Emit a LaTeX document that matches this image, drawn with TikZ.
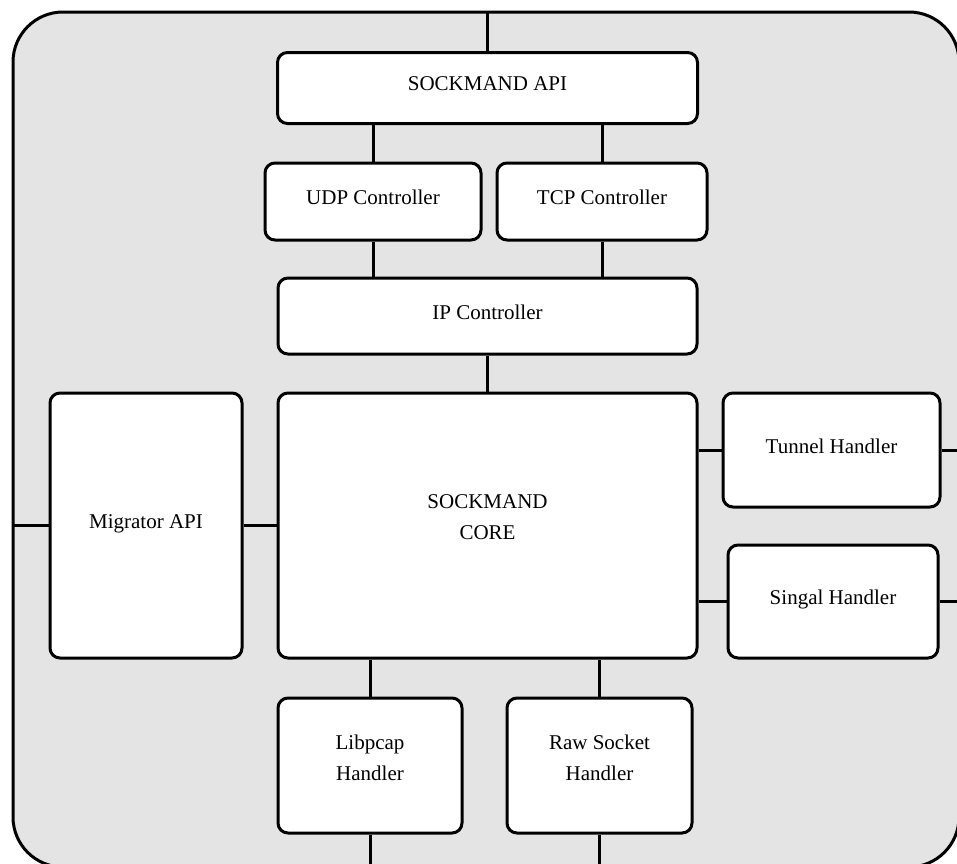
\documentclass[tikz,border=0pt]{standalone}
\usepackage{fontspec}
\setmainfont{Liberation Serif}
\definecolor{framegray}{RGB}{228,228,228}
\begin{document}
\begin{tikzpicture}[x=1pt,y=-1pt,
  wire/.style={line width=3pt},
  block/.style={draw, line width=3pt, fill=white, rounded corners=10pt,
    inner sep=0pt, align=center, text depth=8pt,
    font=\fontsize{21}{31}\selectfont},
  shell/.style={draw, line width=3pt, fill=framegray, rounded corners=50pt,
    inner sep=0pt}]
\useasboundingbox (0,0) rectangle (957,863);

% enclosing module
\node[shell, minimum width=946pt, minimum height=855pt] (frame) at (486,439.5) {};

% controller stack
\node[block, minimum width=420pt, minimum height=71pt]  (api)  at (487.5,88)   {SOCKMAND API};
\node[block, minimum width=216pt, minimum height=77pt]  (udp)  at (373,201.5)  {UDP Controller};
\node[block, minimum width=210pt, minimum height=77pt]  (tcp)  at (602,201.5)  {TCP Controller};
\node[block, minimum width=419pt, minimum height=76pt]  (ip)   at (487.5,316)  {IP Controller};

% core and its neighbours
\node[block, minimum width=192pt, minimum height=265pt] (mig)  at (146,525.5)  {Migrator API};
\node[block, minimum width=419pt, minimum height=265pt, text depth=16pt] (core) at (487.5,525.5) {SOCKMAND\\CORE};
\node[block, minimum width=217pt, minimum height=114pt] (tun)  at (831.5,450)  {Tunnel Handler};
\node[block, minimum width=210pt, minimum height=113pt] (sig)  at (833,601.5)  {Singal Handler};
\node[block, minimum width=184pt, minimum height=135pt, text depth=16pt] (lib) at (370,765.5) {Libpcap\\Handler};
\node[block, minimum width=185pt, minimum height=135pt, text depth=16pt] (raw) at (599.5,765.5) {Raw Socket\\Handler};

% links between blocks
\draw[wire] (api.north) -- (api.north |- frame.north);
\draw[wire] (udp.north) -- (udp.north |- api.south);
\draw[wire] (tcp.north) -- (tcp.north |- api.south);
\draw[wire] (udp.south) -- (udp.south |- ip.north);
\draw[wire] (tcp.south) -- (tcp.south |- ip.north);
\draw[wire] (ip.south) -- (core.north);
\draw[wire] (mig.west) -- (mig.west -| frame.west);
\draw[wire] (mig.east) -- (core.west);
\draw[wire] (tun.west) -- (tun.west -| core.east);
\draw[wire] (tun.east) -- (tun.east -| frame.east);
\draw[wire] (sig.west) -- (sig.west -| core.east);
\draw[wire] (sig.east) -- (sig.east -| frame.east);
\draw[wire] (lib.north) -- (lib.north |- core.south);
\draw[wire] (raw.north) -- (raw.north |- core.south);
\draw[wire] (lib.south) -- (lib.south |- frame.south);
\draw[wire] (raw.south) -- (raw.south |- frame.south);
\end{tikzpicture}
\end{document}
